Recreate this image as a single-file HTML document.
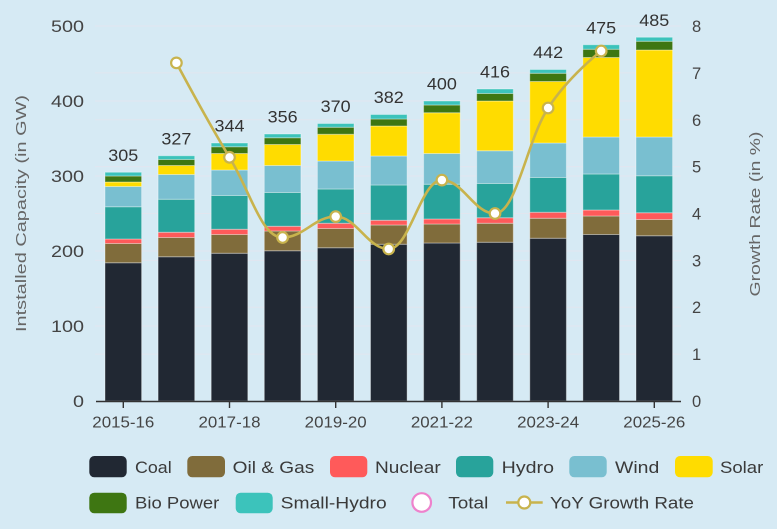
<!DOCTYPE html>
<html><head><meta charset="utf-8"><style>
html,body{margin:0;padding:0;background:#d6eaf4;}
svg{display:block;font-family:"Liberation Sans",sans-serif;}
</style></head><body>
<svg width="777" height="529" viewBox="0 0 777 529" xmlns="http://www.w3.org/2000/svg">
<rect width="777" height="529" fill="#d6eaf4"/>
<g stroke="#e4e6ef" stroke-width="1" opacity="0.8">
<line x1="95" x2="681" y1="26" y2="26"/><line x1="95" x2="681" y1="101" y2="101"/><line x1="95" x2="681" y1="176" y2="176"/><line x1="95" x2="681" y1="251" y2="251"/><line x1="95" x2="681" y1="326" y2="326"/>
<line x1="95" x2="681" y1="72.9" y2="72.9"/><line x1="95" x2="681" y1="119.8" y2="119.8"/><line x1="95" x2="681" y1="166.6" y2="166.6"/><line x1="95" x2="681" y1="213.5" y2="213.5"/><line x1="95" x2="681" y1="260.4" y2="260.4"/><line x1="95" x2="681" y1="307.3" y2="307.3"/><line x1="95" x2="681" y1="354.1" y2="354.1"/>
</g>
<g transform="translate(0,401) scale(1,-0.75)" stroke="#ffffff" stroke-opacity="0.35" stroke-width="1">
<!-- bar 0 -->
<g transform="translate(105,0)">
<rect vector-effect="non-scaling-stroke" x="0" width="36.6" y="0" height="184.4" fill="#212833"/>
<rect vector-effect="non-scaling-stroke" x="0" width="36.6" y="184.4" height="25.6" fill="#806c3b"/>
<rect vector-effect="non-scaling-stroke" x="0" width="36.6" y="210" height="6" fill="#ff5a5a"/>
<rect vector-effect="non-scaling-stroke" x="0" width="36.6" y="216" height="43" fill="#28a39b"/>
<rect vector-effect="non-scaling-stroke" x="0" width="36.6" y="259" height="27" fill="#79bfd0"/>
<rect vector-effect="non-scaling-stroke" x="0" width="36.6" y="286" height="6" fill="#ffdc00"/>
<rect vector-effect="non-scaling-stroke" x="0" width="36.6" y="292" height="8" fill="#3e7612"/>
<rect vector-effect="non-scaling-stroke" x="0" width="36.6" y="300" height="5" fill="#3cc3bb"/>
</g>
<g transform="translate(158.1,0)">
<rect vector-effect="non-scaling-stroke" x="0" width="36.6" y="0" height="192.4" fill="#212833"/>
<rect vector-effect="non-scaling-stroke" x="0" width="36.6" y="192.4" height="25.6" fill="#806c3b"/>
<rect vector-effect="non-scaling-stroke" x="0" width="36.6" y="218" height="7" fill="#ff5a5a"/>
<rect vector-effect="non-scaling-stroke" x="0" width="36.6" y="225" height="44" fill="#28a39b"/>
<rect vector-effect="non-scaling-stroke" x="0" width="36.6" y="269" height="33" fill="#79bfd0"/>
<rect vector-effect="non-scaling-stroke" x="0" width="36.6" y="302" height="12" fill="#ffdc00"/>
<rect vector-effect="non-scaling-stroke" x="0" width="36.6" y="314" height="8" fill="#3e7612"/>
<rect vector-effect="non-scaling-stroke" x="0" width="36.6" y="322" height="5" fill="#3cc3bb"/>
</g>
<g transform="translate(211.2,0)">
<rect vector-effect="non-scaling-stroke" x="0" width="36.6" y="0" height="197" fill="#212833"/>
<rect vector-effect="non-scaling-stroke" x="0" width="36.6" y="197" height="25" fill="#806c3b"/>
<rect vector-effect="non-scaling-stroke" x="0" width="36.6" y="222" height="7" fill="#ff5a5a"/>
<rect vector-effect="non-scaling-stroke" x="0" width="36.6" y="229" height="45" fill="#28a39b"/>
<rect vector-effect="non-scaling-stroke" x="0" width="36.6" y="274" height="34" fill="#79bfd0"/>
<rect vector-effect="non-scaling-stroke" x="0" width="36.6" y="308" height="22" fill="#ffdc00"/>
<rect vector-effect="non-scaling-stroke" x="0" width="36.6" y="330" height="9" fill="#3e7612"/>
<rect vector-effect="non-scaling-stroke" x="0" width="36.6" y="339" height="5" fill="#3cc3bb"/>
</g>
<g transform="translate(264.3,0)">
<rect vector-effect="non-scaling-stroke" x="0" width="36.6" y="0" height="200.4" fill="#212833"/>
<rect vector-effect="non-scaling-stroke" x="0" width="36.6" y="200.4" height="26.3" fill="#806c3b"/>
<rect vector-effect="non-scaling-stroke" x="0" width="36.6" y="226.7" height="6.3" fill="#ff5a5a"/>
<rect vector-effect="non-scaling-stroke" x="0" width="36.6" y="233" height="45" fill="#28a39b"/>
<rect vector-effect="non-scaling-stroke" x="0" width="36.6" y="278" height="36" fill="#79bfd0"/>
<rect vector-effect="non-scaling-stroke" x="0" width="36.6" y="314" height="28" fill="#ffdc00"/>
<rect vector-effect="non-scaling-stroke" x="0" width="36.6" y="342" height="9" fill="#3e7612"/>
<rect vector-effect="non-scaling-stroke" x="0" width="36.6" y="351" height="5" fill="#3cc3bb"/>
</g>
<g transform="translate(317.4,0)">
<rect vector-effect="non-scaling-stroke" x="0" width="36.6" y="0" height="204.4" fill="#212833"/>
<rect vector-effect="non-scaling-stroke" x="0" width="36.6" y="204.4" height="25.6" fill="#806c3b"/>
<rect vector-effect="non-scaling-stroke" x="0" width="36.6" y="230" height="7" fill="#ff5a5a"/>
<rect vector-effect="non-scaling-stroke" x="0" width="36.6" y="237" height="45.7" fill="#28a39b"/>
<rect vector-effect="non-scaling-stroke" x="0" width="36.6" y="282.7" height="37.3" fill="#79bfd0"/>
<rect vector-effect="non-scaling-stroke" x="0" width="36.6" y="320" height="35.6" fill="#ffdc00"/>
<rect vector-effect="non-scaling-stroke" x="0" width="36.6" y="355.6" height="9.4" fill="#3e7612"/>
<rect vector-effect="non-scaling-stroke" x="0" width="36.6" y="365" height="5" fill="#3cc3bb"/>
</g>
<g transform="translate(370.5,0)">
<rect vector-effect="non-scaling-stroke" x="0" width="36.6" y="0" height="209" fill="#212833"/>
<rect vector-effect="non-scaling-stroke" x="0" width="36.6" y="209" height="25.7" fill="#806c3b"/>
<rect vector-effect="non-scaling-stroke" x="0" width="36.6" y="234.7" height="6.3" fill="#ff5a5a"/>
<rect vector-effect="non-scaling-stroke" x="0" width="36.6" y="241" height="47" fill="#28a39b"/>
<rect vector-effect="non-scaling-stroke" x="0" width="36.6" y="288" height="38.7" fill="#79bfd0"/>
<rect vector-effect="non-scaling-stroke" x="0" width="36.6" y="326.7" height="40" fill="#ffdc00"/>
<rect vector-effect="non-scaling-stroke" x="0" width="36.6" y="366.7" height="9.3" fill="#3e7612"/>
<rect vector-effect="non-scaling-stroke" x="0" width="36.6" y="376" height="6" fill="#3cc3bb"/>
</g>
<g transform="translate(423.6,0)">
<rect vector-effect="non-scaling-stroke" x="0" width="36.6" y="0" height="210.7" fill="#212833"/>
<rect vector-effect="non-scaling-stroke" x="0" width="36.6" y="210.7" height="25.3" fill="#806c3b"/>
<rect vector-effect="non-scaling-stroke" x="0" width="36.6" y="236" height="6.7" fill="#ff5a5a"/>
<rect vector-effect="non-scaling-stroke" x="0" width="36.6" y="242.7" height="46.3" fill="#28a39b"/>
<rect vector-effect="non-scaling-stroke" x="0" width="36.6" y="289" height="41" fill="#79bfd0"/>
<rect vector-effect="non-scaling-stroke" x="0" width="36.6" y="330" height="54.4" fill="#ffdc00"/>
<rect vector-effect="non-scaling-stroke" x="0" width="36.6" y="384.4" height="10.3" fill="#3e7612"/>
<rect vector-effect="non-scaling-stroke" x="0" width="36.6" y="394.7" height="5.3" fill="#3cc3bb"/>
</g>
<g transform="translate(476.7,0)">
<rect vector-effect="non-scaling-stroke" x="0" width="36.6" y="0" height="211.6" fill="#212833"/>
<rect vector-effect="non-scaling-stroke" x="0" width="36.6" y="211.6" height="25.4" fill="#806c3b"/>
<rect vector-effect="non-scaling-stroke" x="0" width="36.6" y="237" height="7.4" fill="#ff5a5a"/>
<rect vector-effect="non-scaling-stroke" x="0" width="36.6" y="244.4" height="45.6" fill="#28a39b"/>
<rect vector-effect="non-scaling-stroke" x="0" width="36.6" y="290" height="43.7" fill="#79bfd0"/>
<rect vector-effect="non-scaling-stroke" x="0" width="36.6" y="333.7" height="66.3" fill="#ffdc00"/>
<rect vector-effect="non-scaling-stroke" x="0" width="36.6" y="400" height="10" fill="#3e7612"/>
<rect vector-effect="non-scaling-stroke" x="0" width="36.6" y="410" height="6" fill="#3cc3bb"/>
</g>
<g transform="translate(529.8,0)">
<rect vector-effect="non-scaling-stroke" x="0" width="36.6" y="0" height="217" fill="#212833"/>
<rect vector-effect="non-scaling-stroke" x="0" width="36.6" y="217" height="26.6" fill="#806c3b"/>
<rect vector-effect="non-scaling-stroke" x="0" width="36.6" y="243.6" height="8" fill="#ff5a5a"/>
<rect vector-effect="non-scaling-stroke" x="0" width="36.6" y="251.6" height="46.4" fill="#28a39b"/>
<rect vector-effect="non-scaling-stroke" x="0" width="36.6" y="298" height="46" fill="#79bfd0"/>
<rect vector-effect="non-scaling-stroke" x="0" width="36.6" y="344" height="82" fill="#ffdc00"/>
<rect vector-effect="non-scaling-stroke" x="0" width="36.6" y="426" height="11" fill="#3e7612"/>
<rect vector-effect="non-scaling-stroke" x="0" width="36.6" y="437" height="5" fill="#3cc3bb"/>
</g>
<g transform="translate(582.9,0)">
<rect vector-effect="non-scaling-stroke" x="0" width="36.6" y="0" height="222" fill="#212833"/>
<rect vector-effect="non-scaling-stroke" x="0" width="36.6" y="222" height="24.7" fill="#806c3b"/>
<rect vector-effect="non-scaling-stroke" x="0" width="36.6" y="246.7" height="8" fill="#ff5a5a"/>
<rect vector-effect="non-scaling-stroke" x="0" width="36.6" y="254.7" height="48" fill="#28a39b"/>
<rect vector-effect="non-scaling-stroke" x="0" width="36.6" y="302.7" height="49.3" fill="#79bfd0"/>
<rect vector-effect="non-scaling-stroke" x="0" width="36.6" y="352" height="106" fill="#ffdc00"/>
<rect vector-effect="non-scaling-stroke" x="0" width="36.6" y="458" height="11" fill="#3e7612"/>
<rect vector-effect="non-scaling-stroke" x="0" width="36.6" y="469" height="6" fill="#3cc3bb"/>
</g>
<g transform="translate(636,0)">
<rect vector-effect="non-scaling-stroke" x="0" width="36.6" y="0" height="220.4" fill="#212833"/>
<rect vector-effect="non-scaling-stroke" x="0" width="36.6" y="220.4" height="21.6" fill="#806c3b"/>
<rect vector-effect="non-scaling-stroke" x="0" width="36.6" y="242" height="9" fill="#ff5a5a"/>
<rect vector-effect="non-scaling-stroke" x="0" width="36.6" y="251" height="49.4" fill="#28a39b"/>
<rect vector-effect="non-scaling-stroke" x="0" width="36.6" y="300.4" height="51.6" fill="#79bfd0"/>
<rect vector-effect="non-scaling-stroke" x="0" width="36.6" y="352" height="116" fill="#ffdc00"/>
<rect vector-effect="non-scaling-stroke" x="0" width="36.6" y="468" height="11.6" fill="#3e7612"/>
<rect vector-effect="non-scaling-stroke" x="0" width="36.6" y="479.6" height="5.4" fill="#3cc3bb"/>
</g>
</g>
<!-- x axis -->
<line x1="96" x2="681" y1="401.5" y2="401.5" stroke="#333" stroke-width="1.6"/>
<g stroke="#333" stroke-width="1.4">
<line x1="123.3" x2="123.3" y1="401" y2="408"/><line x1="229.5" x2="229.5" y1="401" y2="408"/><line x1="335.7" x2="335.7" y1="401" y2="408"/><line x1="441.9" x2="441.9" y1="401" y2="408"/><line x1="548.1" x2="548.1" y1="401" y2="408"/><line x1="654.3" x2="654.3" y1="401" y2="408"/>
</g>
<g font-size="16" fill="#444" text-anchor="middle">
<text x="123.3" y="427.5" textLength="62" lengthAdjust="spacingAndGlyphs">2015-16</text>
<text x="229.5" y="427.5" textLength="62" lengthAdjust="spacingAndGlyphs">2017-18</text>
<text x="335.7" y="427.5" textLength="62" lengthAdjust="spacingAndGlyphs">2019-20</text>
<text x="441.9" y="427.5" textLength="62" lengthAdjust="spacingAndGlyphs">2021-22</text>
<text x="548.1" y="427.5" textLength="62" lengthAdjust="spacingAndGlyphs">2023-24</text>
<text x="654.3" y="427.5" textLength="62" lengthAdjust="spacingAndGlyphs">2025-26</text>
</g>
<!-- left ticks -->
<g font-size="16.5" fill="#444" text-anchor="end">
<text x="84" y="407" textLength="11" lengthAdjust="spacingAndGlyphs">0</text>
<text x="84" y="332" textLength="33" lengthAdjust="spacingAndGlyphs">100</text>
<text x="84" y="257" textLength="33" lengthAdjust="spacingAndGlyphs">200</text>
<text x="84" y="182" textLength="33" lengthAdjust="spacingAndGlyphs">300</text>
<text x="84" y="107" textLength="33" lengthAdjust="spacingAndGlyphs">400</text>
<text x="84" y="32" textLength="33" lengthAdjust="spacingAndGlyphs">500</text>
</g>
<!-- right ticks -->
<g font-size="16.5" fill="#444">
<text x="692" y="407">0</text>
<text x="692" y="360">1</text>
<text x="692" y="313">2</text>
<text x="692" y="266.5">3</text>
<text x="692" y="219.5">4</text>
<text x="692" y="172.6">5</text>
<text x="692" y="125.8">6</text>
<text x="692" y="78.9">7</text>
<text x="692" y="32">8</text>
</g>
<text transform="translate(26,213.5) rotate(-90)" text-anchor="middle" font-size="15" fill="#666" textLength="237" lengthAdjust="spacingAndGlyphs">Intstalled Capacity (in GW)</text>
<text transform="translate(760,214) rotate(-90)" text-anchor="middle" font-size="15" fill="#666" textLength="165" lengthAdjust="spacingAndGlyphs">Growth Rate (in %)</text>
<!-- stack labels -->
<g font-size="17" fill="#333" text-anchor="middle">
<text x="123.3" y="160.8" textLength="30" lengthAdjust="spacingAndGlyphs">305</text>
<text x="176.4" y="144.3" textLength="30" lengthAdjust="spacingAndGlyphs">327</text>
<text x="229.5" y="131.5" textLength="30" lengthAdjust="spacingAndGlyphs">344</text>
<text x="282.6" y="122.5" textLength="30" lengthAdjust="spacingAndGlyphs">356</text>
<text x="335.7" y="112" textLength="30" lengthAdjust="spacingAndGlyphs">370</text>
<text x="388.8" y="103" textLength="30" lengthAdjust="spacingAndGlyphs">382</text>
<text x="441.9" y="89.5" textLength="30" lengthAdjust="spacingAndGlyphs">400</text>
<text x="495" y="77.5" textLength="30" lengthAdjust="spacingAndGlyphs">416</text>
<text x="548.1" y="58" textLength="30" lengthAdjust="spacingAndGlyphs">442</text>
<text x="601.2" y="33.3" textLength="30" lengthAdjust="spacingAndGlyphs">475</text>
<text x="654.3" y="25.8" textLength="30" lengthAdjust="spacingAndGlyphs">485</text>
</g>
<!-- growth line -->
<path d="M176.4,62.9 C176.4,62.9 208.3,122.4 229.5,157.3 C250.7,192.2 261.4,237.5 282.6,237.5 C303.8,237.5 314.5,216.6 335.7,216.6 C356.9,216.6 367.5,249.0 388.7,249.0 C409.9,249.0 420.7,180.1 441.9,180.1 C463.1,180.1 473.8,213.5 495.0,213.5 C516.2,213.5 526.9,140.5 548.1,108.0 C569.3,75.5 601.2,51.0 601.2,51.0" fill="none" stroke="#c8b34d" stroke-width="2.6"/>
<g fill="#ffffff" stroke="#c8b34d" stroke-width="2.2">
<circle cx="176.4" cy="62.9" r="5.3"/><circle cx="229.5" cy="157.3" r="5.3"/><circle cx="282.6" cy="237.5" r="5.3"/><circle cx="335.7" cy="216.6" r="5.3"/><circle cx="388.7" cy="249" r="5.3"/><circle cx="441.9" cy="180.1" r="5.3"/><circle cx="495" cy="213.5" r="5.3"/><circle cx="548.1" cy="108" r="5.3"/><circle cx="601.2" cy="51" r="5.3"/>
</g>
<!-- legend -->
<g>
<rect x="89.3" y="456" width="37.4" height="21.3" rx="5" fill="#212833"/>
<rect x="187.3" y="456" width="37.7" height="21.3" rx="5" fill="#806c3b"/>
<rect x="330" y="456" width="37.3" height="21.3" rx="5" fill="#ff5a5a"/>
<rect x="456" y="456" width="37.3" height="21.3" rx="5" fill="#28a39b"/>
<rect x="569.3" y="456" width="37.4" height="21.3" rx="5" fill="#79bfd0"/>
<rect x="675" y="456" width="37.7" height="21.3" rx="5" fill="#ffdc00"/>
<rect x="89.3" y="492.7" width="37.4" height="20.6" rx="5" fill="#3e7612"/>
<rect x="235.7" y="492.7" width="37" height="20.6" rx="5" fill="#3cc3bb"/>
<circle cx="421.7" cy="502.5" r="9.3" fill="#ffffff" stroke="#ee82cc" stroke-width="2.2"/>
<line x1="506" x2="542.7" y1="502.5" y2="502.5" stroke="#c8b34d" stroke-width="2.6"/>
<circle cx="524.3" cy="502.5" r="6" fill="#ffffff" stroke="#c8b34d" stroke-width="2.2"/>
</g>
<g font-size="17" fill="#3a3a3a">
<text x="135" y="473" textLength="36.7" lengthAdjust="spacingAndGlyphs">Coal</text>
<text x="232.7" y="473" textLength="81.6" lengthAdjust="spacingAndGlyphs">Oil &amp; Gas</text>
<text x="375" y="473" textLength="65.7" lengthAdjust="spacingAndGlyphs">Nuclear</text>
<text x="501.7" y="473" textLength="52.3" lengthAdjust="spacingAndGlyphs">Hydro</text>
<text x="615" y="473" textLength="44.3" lengthAdjust="spacingAndGlyphs">Wind</text>
<text x="720" y="473" textLength="43.3" lengthAdjust="spacingAndGlyphs">Solar</text>
<text x="135" y="508.5" textLength="84.3" lengthAdjust="spacingAndGlyphs">Bio Power</text>
<text x="280.7" y="508.5" textLength="106" lengthAdjust="spacingAndGlyphs">Small-Hydro</text>
<text x="448.3" y="508.5" textLength="40" lengthAdjust="spacingAndGlyphs">Total</text>
<text x="550" y="508.5" textLength="144" lengthAdjust="spacingAndGlyphs">YoY Growth Rate</text>
</g>
</svg>
</body></html>
